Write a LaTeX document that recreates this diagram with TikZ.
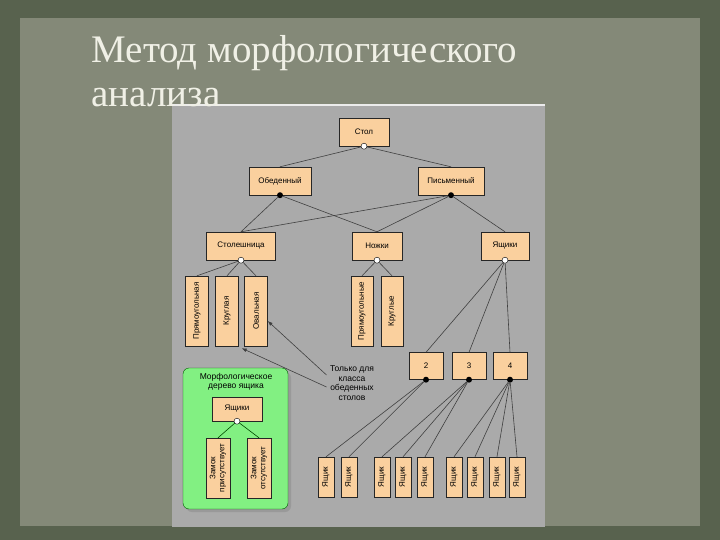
\documentclass[tikz,border=0pt]{standalone}
\usepackage{fontspec}
\setmainfont{Liberation Serif}
\setsansfont{Liberation Sans}
\usetikzlibrary{arrows.meta}

\definecolor{frameolive}{RGB}{88,98,78}
\definecolor{slidegray}{RGB}{132,137,120}
\definecolor{panelgray}{RGB}{170,170,170}
\definecolor{boxpeach}{RGB}{250,208,158}
\definecolor{treegreen}{RGB}{130,240,130}
\definecolor{titlewhite}{RGB}{240,240,230}

\begin{document}
\begin{tikzpicture}[x=1pt,y=-1pt,>=Latex,font=\sffamily\fontsize{8}{9}\selectfont,
  box/.style={draw=black!85,fill=boxpeach,inner sep=0pt},
  hbox/.style={box,minimum width=#1,minimum height=28},
  vbox/.style={box,rotate=90,minimum width=70,minimum height=23,align=center},
  leaf/.style={box,rotate=90,minimum width=40,minimum height=16},
  opendot/.style={circle,draw=black,fill=white,inner sep=0pt,minimum size=6},
  fulldot/.style={circle,fill=black,inner sep=0pt,minimum size=6},
  link/.style={draw=black!75,line width=0.6pt},
  slidetitle/.style={anchor=base west,text=titlewhite,font=\rmfamily\fontsize{39}{44}\selectfont}]
  % slide background
  \fill[frameolive] (0,0) rectangle (720,540);
  \fill[slidegray] (20,18) rectangle (700,526);
  \fill[panelgray] (172,105) rectangle (545,527);
  \draw[white!85!gray,line width=1.5] (172,105)--(545,105);
  \node[slidetitle] (title1) at (88,63) {Метод морфологического};
  \node[slidetitle] (title2) at (88,107) {анализа};
  % tree
  \node[hbox=50] (stol) at (364,132) {Стол};
  \node[hbox=62] (obed) at (280,181) {Обеденный};
  \node[hbox=66] (pism) at (451,181) {Письменный};
  \node[hbox=69] (stesh) at (241,246) {Столешница};
  \node[hbox=50] (nozhki) at (377,246) {Ножки};
  \node[hbox=48] (yashiki) at (505,246) {Ящики};
  \node[vbox] (pryam) at (197,311) {Прямоугольная};
  \node[vbox] (krug) at (227,311) {Круглая};
  \node[vbox] (oval) at (256,311) {Овальная};
  \node[vbox,minimum height=22] (npryam) at (362,311) {Прямоугольные};
  \node[vbox,minimum height=22] (nkrug) at (392,311) {Круглые};
  \node[hbox=34,minimum height=27] (y2) at (426,366) {2};
  \node[hbox=34,minimum height=27] (y3) at (469,366) {3};
  \node[hbox=34,minimum height=27] (y4) at (510,366) {4};
  \foreach \x [count=\i] in {326,349,382,403,425,454,475,497,517}
    \node[leaf] (l\i) at (\x,477) {Ящик};
  % dots
  \node[opendot] (dstol) at (stol.south) {};
  \node[fulldot] (dobed) at (obed.south) {};
  \node[fulldot] (dpism) at (pism.south) {};
  \node[opendot] (dstesh) at (stesh.south) {};
  \node[opendot] (dnozhki) at (nozhki.south) {};
  \node[opendot] (dyashiki) at (yashiki.south) {};
  \foreach \n in {y2,y3,y4}
    \node[fulldot] (d\n) at (\n.south) {};
  % links
  \draw[link] (dstol)--(obed.north) (dstol)--(pism.north);
  \draw[link] (dobed)--(stesh.north) (dobed)--(nozhki.north);
  \draw[link] (dpism)--(stesh.north) (dpism)--(nozhki.north) (dpism)--(yashiki.north);
  \foreach \n in {pryam,krug,oval}
    \draw[link] (dstesh)--(\n.east);
  \foreach \n in {npryam,nkrug}
    \draw[link] (dnozhki)--(\n.east);
  \foreach \n in {y2,y3,y4}
    \draw[link] (dyashiki)--(\n.north);
  \foreach \i in {1,2}
    \draw[link] (dy2)--(l\i.east);
  \foreach \i in {3,4,5}
    \draw[link] (dy3)--(l\i.east);
  \foreach \i in {6,...,9}
    \draw[link] (dy4)--(l\i.east);
  % note
  \node[align=center,font=\sffamily\fontsize{8.5}{9.5}\selectfont] (note) at (352,383)
    {Только для\\класса\\обеденных\\столов};
  \draw[link,-{Latex[length=5pt]}] ([yshift=8pt]note.west)--([yshift=-10pt]oval.south);
  \draw[link,-{Latex[length=5pt]}] ([yshift=-4pt]note.west)--([xshift=3pt,yshift=-2pt]krug.south west);
  % morphological tree of a drawer
  \fill[black!40,rounded corners=6] (186,372) rectangle (291,512);
  \draw[green!35!black,fill=treegreen,rounded corners=6] (183,368) rectangle (288,509);
  \node[align=center,font=\sffamily\fontsize{8.5}{9.5}\selectfont] (morph) at (236,382)
    {Морфологическое\\дерево ящика};
  \node[hbox=50,minimum height=24] (gyash) at (237,409) {Ящики};
  \node[vbox,minimum width=60,minimum height=24] (zpris) at (218,468) {Замок\\присутствует};
  \node[vbox,minimum width=60,minimum height=24] (zots) at (259,468) {Замок\\отсутствует};
  \node[opendot] (dgyash) at (gyash.south) {};
  \draw[link,green!30!black] (dgyash)--(zpris.east) (dgyash)--(zots.east);
\end{tikzpicture}
\end{document}
